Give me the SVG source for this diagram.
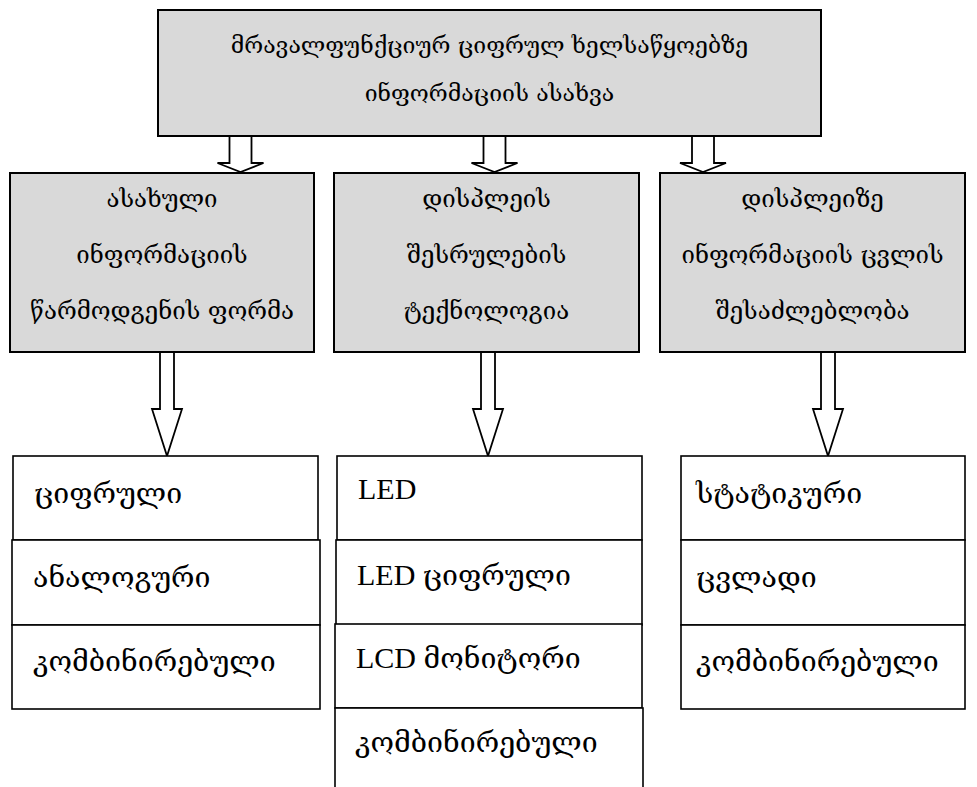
<svg xmlns="http://www.w3.org/2000/svg" width="977" height="787" viewBox="0 0 977 787">
  <style>
    .head { fill: #d9d9d9; stroke: #000; stroke-width: 2; }
    .item { fill: #fff; stroke: #000; stroke-width: 1.6; }
    .arrow { fill: #fff; stroke: #000; stroke-width: 1.8; stroke-linejoin: miter; }
    .ka { font-family: "DejaVu Serif", "DejaVu Sans", serif; fill: #000; }
    .c { text-anchor: middle; }
    .t1 { font-size: 23px; }
    .t2 { font-size: 24px; }
    .t3 { font-size: 28.5px; }
    .lat { font-family: "Liberation Serif", "DejaVu Serif", serif; font-size: 30px; }
  </style>

  <rect width="977" height="787" fill="#fff"/>

  <!-- connectors: hollow block arrows -->
  <g id="connectors">
    <polygon class="arrow" points="229.5,136 251.5,136 251.5,163 263.5,163 240.5,172 217.5,163 229.5,163"/>
    <polygon class="arrow" points="483.5,136 505.5,136 505.5,163 517.5,163 494.5,172 471.5,163 483.5,163"/>
    <polygon class="arrow" points="692,136 714,136 714,163 726,163 703,172 680,163 692,163"/>
    <polygon class="arrow" points="160,352 174,352 174,409 182,409 167,456 152,409 160,409"/>
    <polygon class="arrow" points="481,352 495,352 495,409 503,409 488,456 473,409 481,409"/>
    <polygon class="arrow" points="821,352 835,352 835,409 843,409 828,456 813,409 821,409"/>
  </g>

  <!-- root -->
  <g id="root">
    <rect class="head" x="158" y="10" width="663" height="126"/>
    <text class="ka c t1" x="489.5" y="53">მრავალფუნქციურ ციფრულ ხელსაწყოებზე</text>
    <text class="ka c t1" x="489.5" y="101">ინფორმაციის ასახვა</text>
  </g>

  <!-- second level -->
  <g id="form">
    <rect class="head" x="10" y="173" width="304" height="179"/>
    <text class="ka c t2" x="162" y="207">ასახული</text>
    <text class="ka c t2" x="162" y="263">ინფორმაციის</text>
    <text class="ka c t2" x="162" y="319">წარმოდგენის ფორმა</text>
  </g>
  <g id="technology">
    <rect class="head" x="334" y="173" width="305" height="179"/>
    <text class="ka c t2" x="486.5" y="207">დისპლეის</text>
    <text class="ka c t2" x="486.5" y="263">შესრულების</text>
    <text class="ka c t2" x="486.5" y="319">ტექნოლოგია</text>
  </g>
  <g id="changeability">
    <rect class="head" x="660" y="173" width="305" height="179"/>
    <text class="ka c t2" x="812.5" y="207">დისპლეიზე</text>
    <text class="ka c t2" x="812.5" y="263">ინფორმაციის ცვლის</text>
    <text class="ka c t2" x="812.5" y="319">შესაძლებლობა</text>
  </g>

  <!-- form variants -->
  <g id="form-digital">
    <rect class="item" x="13" y="456" width="305" height="84"/>
    <text class="ka t3" x="34" y="503">ციფრული</text>
  </g>
  <g id="form-analog">
    <rect class="item" x="12" y="540" width="308" height="85"/>
    <text class="ka t3" x="33" y="587">ანალოგური</text>
  </g>
  <g id="form-combined">
    <rect class="item" x="12" y="625" width="308" height="84"/>
    <text class="ka t3" x="33" y="671">კომბინირებული</text>
  </g>

  <!-- technology variants -->
  <g id="tech-led">
    <rect class="item" x="337" y="456" width="305" height="84"/>
    <text class="lat" x="358" y="499">LED</text>
  </g>
  <g id="tech-led-digital">
    <rect class="item" x="336" y="540" width="306" height="85"/>
    <text class="lat" x="357" y="585">LED <tspan class="ka t3">ციფრული</tspan></text>
  </g>
  <g id="tech-lcd">
    <rect class="item" x="335" y="624" width="307" height="84"/>
    <text class="lat" x="356" y="668">LCD <tspan class="ka t3">მონიტორი</tspan></text>
  </g>
  <g id="tech-combined">
    <rect class="item" x="335" y="708" width="308" height="90"/>
    <text class="ka t3" x="355" y="752">კომბინირებული</text>
  </g>

  <!-- changeability variants -->
  <g id="change-static">
    <rect class="item" x="681" y="456" width="284" height="84"/>
    <text class="ka t3" x="696" y="503">სტატიკური</text>
  </g>
  <g id="change-variable">
    <rect class="item" x="681" y="540" width="284" height="85"/>
    <text class="ka t3" x="696" y="587">ცვლადი</text>
  </g>
  <g id="change-combined">
    <rect class="item" x="681" y="625" width="284" height="84"/>
    <text class="ka t3" x="696" y="671">კომბინირებული</text>
  </g>
</svg>
